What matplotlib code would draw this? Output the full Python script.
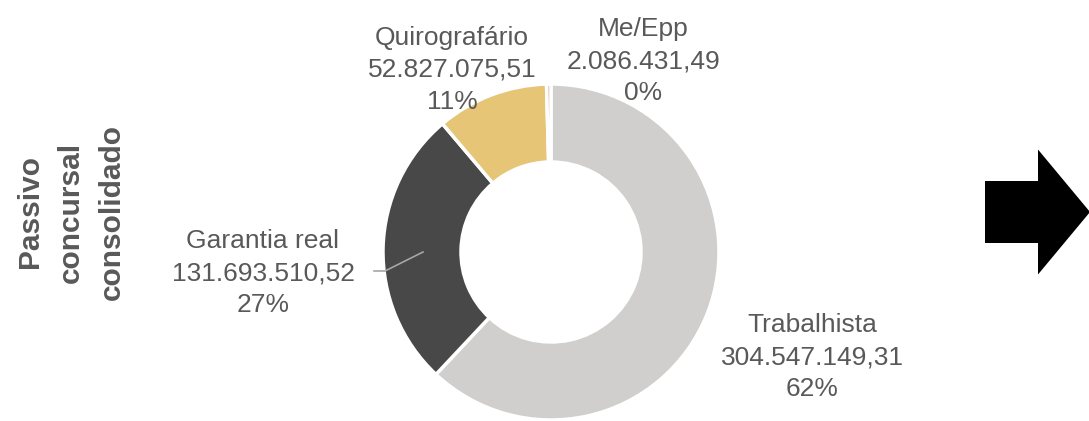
import matplotlib
matplotlib.use("Agg")
import matplotlib.pyplot as plt
from matplotlib.patches import FancyArrow

plt.rcParams['font.family'] = ['Liberation Sans', 'DejaVu Sans']

categories = ["Trabalhista", "Garantia real", "Quirografário", "Me/Epp"]
values = [304547149.31, 131693510.52, 52827075.51, 2086431.49]
value_labels = ["304.547.149,31", "131.693.510,52", "52.827.075,51", "2.086.431,49"]
colors = ["#D0CFCD", "#484848", "#E6C676", "#E8B0B4"]
title_text = "Passivo\nconcursal\nconsolidado"

W, H = 1089, 421
fig = plt.figure(figsize=(W / 100, H / 100), dpi=100)
ax = fig.add_axes([0, 0, 1, 1])

total = sum(values)
pcts = [v / total * 100 for v in values]

cx, cy = 551, H - 252
R = 168
ax.pie(values, colors=colors, center=(cx, cy), radius=R, startangle=90,
       counterclock=False,
       wedgeprops=dict(width=78, edgecolor="white", linewidth=2.5))

ax.set_xlim(0, W)
ax.set_ylim(0, H)
ax.set_aspect("auto")
ax.axis("off")

txt_color = "#595959"
label_pos = [(812, 357), (263, 273), (452, 70), (643, 61)]
for cat, vl, p, (lx, ly) in zip(categories, value_labels, pcts, label_pos):
    ax.text(lx, H - ly, f"{cat}\n{vl}\n{p:.0f}%", ha="center", va="center",
            fontsize=19, color=txt_color, linespacing=1.4, multialignment="center")

# leader line for Garantia real
ax.plot([374, 385, 423], [H - 271, H - 271, H - 252], color="#A6A6A6", lw=1.2)

ax.text(71, H - 212, title_text, rotation=90, ha="center", va="center",
        fontsize=21.5, fontweight="bold", color=txt_color, linespacing=1.6,
        multialignment="center")

arrow = FancyArrow(985, H - 212, 105, 0, width=62, head_width=125,
                   head_length=52, length_includes_head=True,
                   color="black", lw=0)
ax.add_patch(arrow)

fig.savefig("out.png", dpi=100, facecolor="white")
